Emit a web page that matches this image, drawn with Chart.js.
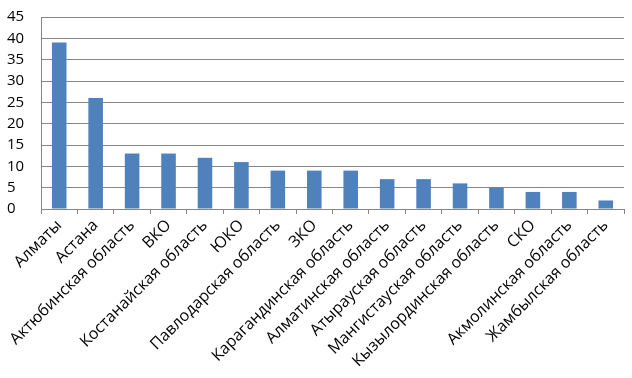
<!DOCTYPE html>
<html>
<head>
<meta charset="utf-8">
<script src="https://cdn.jsdelivr.net/npm/chart.js@4"></script>
<style>
  html, body { margin: 0; padding: 0; background: #fff; }
  #wrap { width: 632px; height: 378px; }
</style>
</head>
<body>
<div id="wrap"><canvas id="grafico"></canvas></div>
<script>
// данные
const regions = ['Алматы', 'Астана', 'Актюбинская область', 'ВКО', 'Костанайская область', 'ЮКО',
    'Павлодарская область', 'ЗКО', 'Карагандинская область', 'Алматинская область',
    'Атырауская область', 'Мангистауская область', 'Кызылординская область', 'СКО',
    'Акмолинская область', 'Жамбылская область'];
const counts = [39, 26, 13, 13, 12, 11, 9, 9, 9, 7, 7, 6, 5, 4, 4, 2];
const yTicks = [0, 5, 10, 15, 20, 25, 30, 35, 40, 45];

const fontFamily = "'Open Sans', 'Liberation Sans', sans-serif";

new Chart(document.getElementById('grafico'), {
    type: 'bar',
    data: {
        labels: regions,
        datasets: [{
            data: counts,
            backgroundColor: '#4F81BD',
            barPercentage: 0.4,
            categoryPercentage: 1
        }]
    },
    options: {
        responsive: true,
        maintainAspectRatio: false,
        animation: false,
        layout: { padding: { top: 8, right: 8, left: 7, bottom: 0 } },
        plugins: { legend: { display: false }, tooltip: { enabled: false } },
        scales: {
            x: {
                grid: { drawOnChartArea: false, drawTicks: true, tickLength: 5, color: '#868686', offset: true },
                border: { color: '#868686' },
                ticks: {
                    color: '#000',
                    font: { family: fontFamily, size: 16 },
                    minRotation: 45, maxRotation: 45,
                    autoSkip: false,
                    padding: 2
                },
                afterFit: s => { s.height = 169; }
            },
            y: {
                min: 0, max: 45,
                afterBuildTicks: s => { s.ticks = yTicks.map(v => ({ value: v })); },
                grid: { color: '#868686', drawTicks: false },
                border: { color: '#868686' },
                ticks: {
                    color: '#000',
                    font: { family: fontFamily, size: 15 },
                    crossAlign: 'far',
                    padding: 8
                },
                afterFit: s => { s.width = 34; }
            }
        }
    }
});
</script>
</body>
</html>
